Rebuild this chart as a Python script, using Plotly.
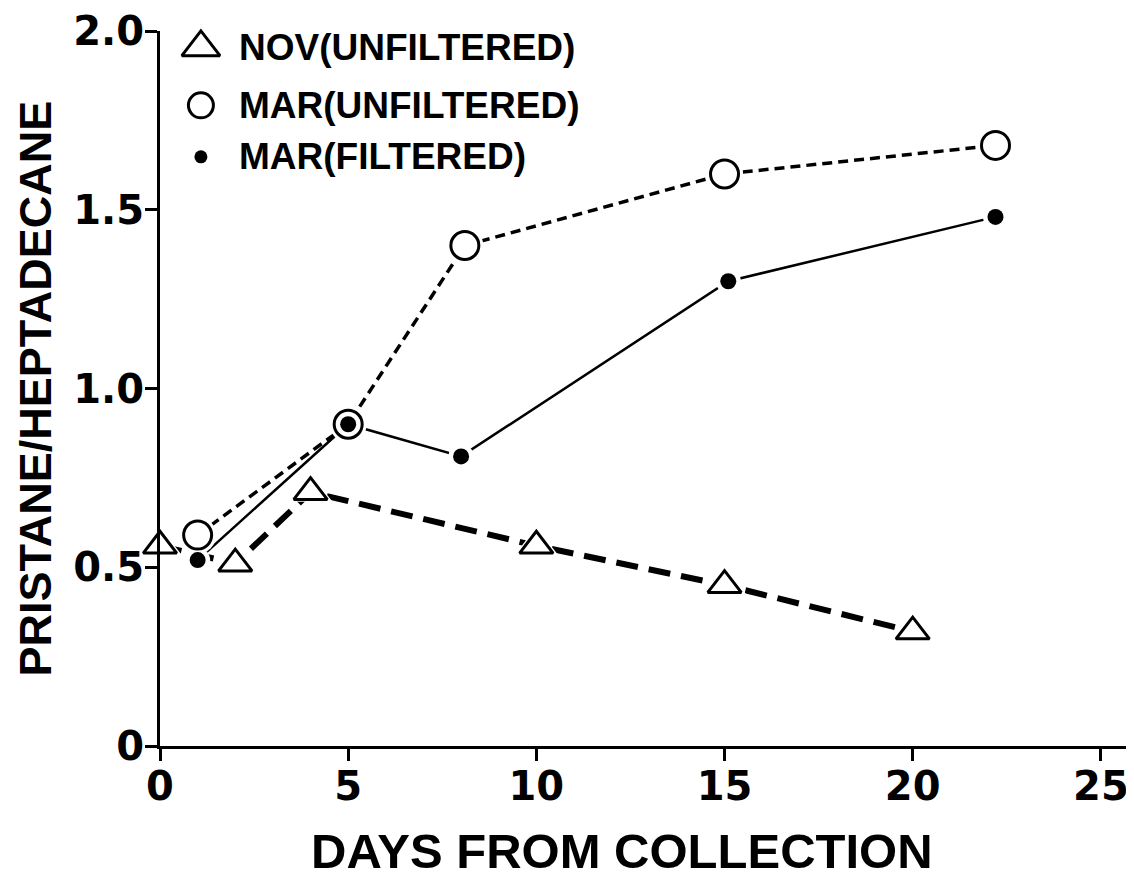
import plotly.graph_objects as go

# ---------------- data ----------------
nov_x = [0, 2, 4, 10, 15, 20]
nov_y = [0.56, 0.51, 0.71, 0.56, 0.45, 0.32]

mar_unf_x = [1, 5, 8.1, 15.0, 22.2]
mar_unf_y = [0.59, 0.90, 1.40, 1.60, 1.68]

mar_fil_x = [1, 5, 8.0, 15.1, 22.2]
mar_fil_y = [0.52, 0.90, 0.81, 1.30, 1.48]

series_names = ["NOV(UNFILTERED)", "MAR(UNFILTERED)", "MAR(FILTERED)"]

x_ticks = [0, 5, 10, 15, 20, 25]
y_ticks = [0, 0.5, 1.0, 1.5, 2.0]
y_ticklabels = ["0", "0.5", "1.0", "1.5", "2.0"]

x_title = "DAYS FROM COLLECTION"
y_title = "PRISTANE/HEPTADECANE"

# ---------------- styling ----------------
SANS = "Liberation Sans, Arial, sans-serif"
TICKFONT = "DejaVu Sans, sans-serif"

# page body has an 8px margin, so the figure is drawn 8px in from the corner
W, H = 1126, 870
ML, MR, MT, MB = 152, 0, 23, 132

nov_style = dict(line=dict(color="black", width=6, dash="22px,11px"),
                 sym="triangle-up", size=29, fill="white", lw=3)
unf_style = dict(line=dict(color="black", width=3.5, dash="10px,6px"),
                 sym="circle", size=28, fill="white", lw=3)
fil_style = dict(line=dict(color="black", width=2.5),
                 sym="circle", size=16, fill="black", lw=0)

series = [(nov_x, nov_y, nov_style), (mar_unf_x, mar_unf_y, unf_style),
          (mar_fil_x, mar_fil_y, fil_style)]

fig = go.Figure()

# lines
for (xs, ys, st), name in zip(series, series_names):
    fig.add_trace(go.Scatter(x=xs, y=ys, mode="lines", name=name,
                             showlegend=False, line=st["line"], hoverinfo="skip"))
# white halos so lines stop short of markers
for (xs, ys, st), name in zip(series, series_names):
    fig.add_trace(go.Scatter(x=xs, y=ys, mode="markers", name=name, showlegend=False,
                             cliponaxis=False, hoverinfo="skip",
                             marker=dict(symbol=st["sym"], size=st["size"] + 9,
                                         color="white", line=dict(width=0))))
# markers
for (xs, ys, st), name in zip(series, series_names):
    fig.add_trace(go.Scatter(x=xs, y=ys, mode="markers", name=name, showlegend=False,
                             cliponaxis=False,
                             marker=dict(symbol=st["sym"], size=st["size"],
                                         color=st["fill"],
                                         line=dict(color="black", width=st["lw"]))))

# ---------------- key (top-left) ----------------
key_x = 0.042
key_rows = [0.977, 0.896, 0.824]
key_text_x = 0.079
key_sizes = [33, 25, 13]
for name, st, ky, ks in zip(series_names, [nov_style, unf_style, fil_style], key_rows, key_sizes):
    fig.add_trace(go.Scatter(
        x=[key_x], y=[ky], xaxis="x2", yaxis="y2", mode="markers", name=name,
        showlegend=False, cliponaxis=False, hoverinfo="skip",
        marker=dict(symbol=st["sym"], size=ks, color=st["fill"],
                    line=dict(color="black", width=st["lw"]))))
    fig.add_annotation(x=key_text_x, y=ky, xref="paper", yref="paper",
                       text=name, showarrow=False, xanchor="left", yanchor="middle",
                       font=dict(size=37, family=SANS, weight="bold", color="black"))

# axis titles
fig.add_annotation(x=0.474, y=-0.147, xref="paper", yref="paper", text=x_title,
                   showarrow=False, xanchor="center", yanchor="middle",
                   font=dict(size=49, family=SANS, weight="bold", color="black"))
fig.add_annotation(x=-0.1283, y=0.5, xref="paper", yref="paper", text=y_title,
                   textangle=-90, showarrow=False, xanchor="center", yanchor="middle",
                   font=dict(size=45, family=SANS, weight="bold", color="black"))

fig.update_layout(
    width=W, height=H,
    margin=dict(l=ML, r=MR, t=MT, b=MB, autoexpand=False),
    paper_bgcolor="white", plot_bgcolor="white",
    font=dict(family=SANS, color="black"),
    showlegend=False,
    xaxis=dict(
        range=[0, 25.88], tickvals=x_ticks, automargin=False,
        showline=True, linecolor="black", linewidth=3,
        ticks="outside", ticklen=12, tickwidth=3, tickcolor="black",
        showgrid=False, zeroline=False, ticklabelstandoff=-9,
        tickfont=dict(size=40, family=TICKFONT, weight="bold"),
    ),
    yaxis=dict(
        range=[0, 2.0], tickvals=y_ticks, ticktext=y_ticklabels, automargin=False,
        showline=True, linecolor="black", linewidth=3,
        ticks="outside", ticklen=12, tickwidth=3, tickcolor="black",
        showgrid=False, zeroline=False, ticklabelstandoff=-7,
        tickfont=dict(size=40, family=TICKFONT, weight="bold"),
    ),
    xaxis2=dict(overlaying="x", range=[0, 1], visible=False, fixedrange=True),
    yaxis2=dict(overlaying="y", range=[0, 1], visible=False, fixedrange=True),
)

fig.write_html("out.html")
